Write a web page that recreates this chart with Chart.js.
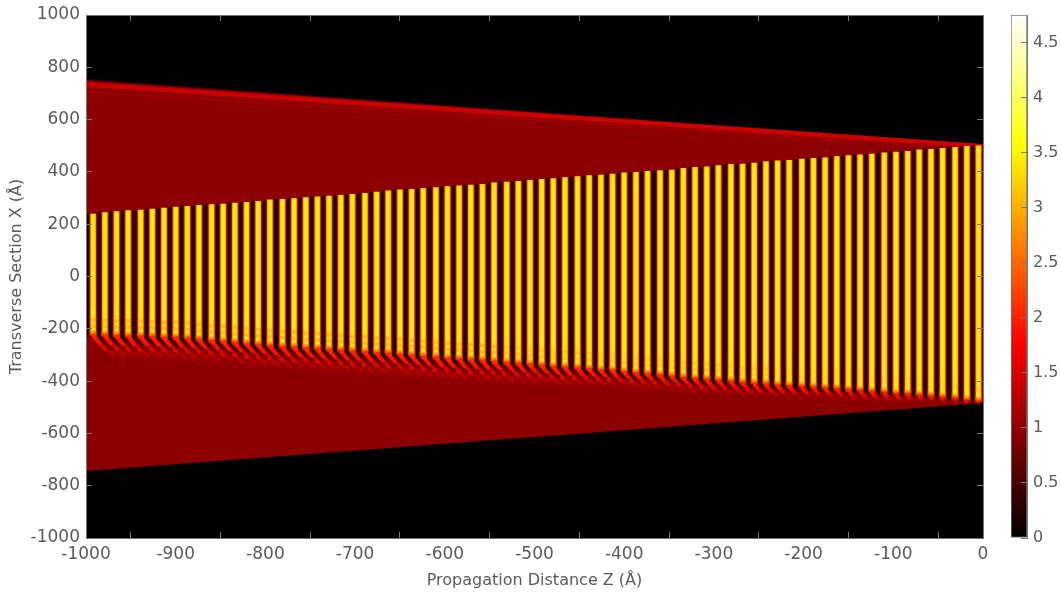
<!DOCTYPE html>
<html>
<head>
<meta charset="utf-8">
<title>Transverse intensity</title>
<script src="https://cdn.jsdelivr.net/npm/chart.js@4"></script>
<style>
    html, body { margin: 0; padding: 0; background: #fff; }
    canvas { position: absolute; top: 0; filter: blur(0.6px); }
    #fieldChart { left: 0; }
    #barChart { left: 990px; }
</style>
</head>
<body>
<canvas id="fieldChart" width="990" height="592"></canvas>
<canvas id="barChart" width="71" height="592"></canvas>
<script>
const xTicks = [-1000, -900, -800, -700, -600, -500, -400, -300, -200, -100, 0];
const yTicks = [-1000, -800, -600, -400, -200, 0, 200, 400, 600, 800, 1000];
const cbTicks = [0, 0.5, 1, 1.5, 2, 2.5, 3, 3.5, 4, 4.5];

// outer edge of the beam
const envZ = [-1000, 0];
const envTop = [750, 500];
const envBottom = [-744, -484];

// bright band along the upper edge, and the faint fringes under it
const glowTop = [743, 500];
const bandTop = [733, 499];
const fringeA = [706, 492];
const fringeB = [688, 486];
const fringeC = [664, 480];

// one entry per bright fringe
const stripeZ = [-992, -979, -966, -953, -939, -926, -913, -900, -887, -874, -860, -847, -834, -821, -808, -795,
    -781, -768, -755, -742, -729, -716, -703, -689, -676, -663, -650, -637, -624, -610, -597, -584, -571, -558,
    -545, -531, -518, -505, -492, -479, -466, -452, -439, -426, -413, -400, -387, -374, -360, -347, -334, -321,
    -308, -295, -281, -268, -255, -242, -229, -216, -202, -189, -176, -163, -150, -137, -124, -110, -97, -84,
    -71, -58, -45, -31, -18, -5];
const stripeTop = [239, 244, 248, 252, 254, 258, 262, 265, 268, 272, 275, 277, 281, 284, 287, 293, 295, 298, 302,
    305, 308, 310, 314, 318, 323, 328, 331, 333, 337, 340, 344, 347, 350, 352, 358, 361, 364, 368, 372, 374, 378,
    382, 386, 388, 392, 396, 398, 402, 405, 407, 414, 417, 419, 424, 429, 430, 434, 439, 442, 444, 449, 452, 454,
    459, 462, 465, 468, 473, 476, 479, 484, 486, 490, 494, 498, 500];
const stripeBottom = [-230, -231, -233, -234, -235, -236, -239, -240, -243, -247, -252, -255, -259, -263, -267,
    -271, -275, -277, -281, -283, -286, -289, -292, -295, -299, -300, -304, -308, -312, -315, -319, -322, -324,
    -327, -331, -335, -338, -342, -346, -350, -352, -355, -359, -363, -365, -370, -374, -378, -382, -387, -392,
    -396, -398, -402, -406, -411, -414, -416, -420, -423, -425, -428, -431, -434, -438, -440, -444, -448, -452,
    -454, -458, -462, -466, -470, -477, -482];
// how far the curved tail under each fringe reaches
const hookScale = [1, 1, 1, 1, 1, 1, 1, 1, 1, 1, 1, 1, 1, 1, 1, 1, 1, 1, 1, 1, 1, 1, 1, 1, 1, 1, 1, 1, 1, 1,
    0.98, 0.96, 0.95, 0.93, 0.92, 0.9, 0.88, 0.86, 0.85, 0.83, 0.8, 0.78, 0.76, 0.74, 0.72, 0.7, 0.68, 0.66, 0.65,
    0.63, 0.62, 0.6, 0.58, 0.56, 0.55, 0.53, 0.52, 0.5, 0.48, 0.46, 0.45, 0.43, 0.42, 0.4, 0.38, 0.36, 0.35, 0.33,
    0.3, 0.26, 0.22, 0.18, 0.15, 0.12, 0.08, 0.05];

const redHookDz = [0, 3, 8, 15, 24, 34];
const redHookDx = [8, -8, -30, -52, -72, -88];
const redHookColors = ['#ff2800', '#f41400', '#d80800', '#b00000', '#960000'];
const darkHookDz = [6.5, 8.5, 12, 17, 23];
const darkHookDx = [6, -6, -20, -34, -46];
const darkHookColors = ['#1c0000', '#320000', '#5c0000', '#800000'];
const beadOffsets = [16, 40, 64];

const cbValues = [0, 1.78, 3.56, 4.75];
const cbColors = ['#000000', '#ff0000', '#ffff00', '#ffffff'];

const stripeOffsets = [0, 0.12, 0.22, 0.28, 0.35, 0.5, 0.65, 0.72, 0.78, 0.88, 1];
const stripeColors = ['#0c0000', '#300000', '#c00800', '#ff8a00', '#ffe010', '#ffee20',
    '#ffe010', '#ff8a00', '#c00800', '#300000', '#0c0000'];

const textColor = '#5a5a5a';
const frameColor = '#777777';
const fontFamily = '"DejaVu Sans"';

function hookPoints(dz, dx) {
    const pts = [];
    stripeZ.forEach((z, i) => {
        const s = hookScale[i];
        dz.forEach((d, j) => pts.push({x: z + dz[0] + (d - dz[0]) * s, y: stripeBottom[i] + dx[j] * s}));
        pts.push({x: z, y: null});
    });
    return pts;
}

function hookSet(dz, dx, colors, width, order) {
    return {
        type: 'line',
        data: hookPoints(dz, dx),
        borderColor: colors[0],
        borderWidth: width,
        tension: 0.4,
        pointRadius: 0,
        fill: false,
        spanGaps: false,
        segment: {borderColor: ctx => colors[ctx.p0DataIndex % (dz.length + 1)] || colors[0]},
        order: order
    };
}

// scale pixel, or null while the scale is not laid out yet
function pixelOf(scale, value) {
    if (!scale || value === undefined) return null;
    const px = scale.getPixelForValue(value);
    return Number.isFinite(px) ? px : null;
}

function stripeFill(ctx) {
    const px = pixelOf(ctx.chart.scales.x, stripeZ[ctx.dataIndex]);
    if (px === null) return '#ffe818';
    const g = ctx.chart.ctx.createLinearGradient(px - 5.9, 0, px + 5.9, 0);
    stripeOffsets.forEach((o, i) => g.addColorStop(o, stripeColors[i]));
    return g;
}

function capFill(ctx) {
    const end = stripeBottom[ctx.dataIndex];
    const y0 = pixelOf(ctx.chart.scales.y, end);
    const y1 = pixelOf(ctx.chart.scales.y, end + 26);
    if (y0 === null || y1 === null) return 'rgba(139,0,0,0.5)';
    const g = ctx.chart.ctx.createLinearGradient(0, y0, 0, y1);
    g.addColorStop(0, 'rgba(170,0,0,1)');
    g.addColorStop(0.5, 'rgba(240,60,0,0.6)');
    g.addColorStop(1, 'rgba(255,150,0,0)');
    return g;
}

function lineSet(ys, color, width, order) {
    return {
        type: 'line',
        data: envZ.map((z, i) => ({x: z, y: ys[i]})),
        borderColor: color,
        borderWidth: width,
        pointRadius: 0,
        fill: false,
        order: order
    };
}

function beadSet(offset, order) {
    return {
        type: 'bar',
        data: stripeZ.map((z, i) => ({x: z, y: [stripeBottom[i] + offset - 6, stripeBottom[i] + offset + 6]})),
        backgroundColor: ctx => 'rgba(235,110,0,' + (ctx.dataIndex < 35 ? 0.32 : ctx.dataIndex < 58 ? 0.2 : 0.08) + ')',
        barThickness: 6,
        borderSkipped: false,
        order: order
    };
}

const blackArea = {
    id: 'blackArea',
    beforeDatasetsDraw(chart) {
        const a = chart.chartArea;
        chart.ctx.fillStyle = '#000';
        chart.ctx.fillRect(a.left, a.top, a.width, a.height);
    }
};

function axisBase(ticks, pos, size) {
    return {
        type: 'linear',
        position: pos,
        min: ticks[0],
        max: ticks[ticks.length - 1],
        offset: false,
        afterBuildTicks: s => { s.ticks = ticks.map(v => ({value: v})); },
        afterFit: s => {
            if (pos === 'left' || pos === 'right') s.width = size; else s.height = size;
            s.paddingLeft = s.paddingRight = s.paddingTop = s.paddingBottom = 0;
        },
        grid: {drawOnChartArea: false, tickLength: -6, tickColor: frameColor, z: 1},
        border: {color: frameColor, width: 1, z: 1},
        ticks: {
            autoSkip: false,
            maxRotation: 0,
            color: textColor,
            padding: 12,
            font: {family: fontFamily, size: 17},
            callback: v => String(v)
        }
    };
}

const xAxis = axisBase(xTicks, 'bottom', 54);
xAxis.title = {display: true, text: 'Propagation Distance Z (Å)', color: textColor, padding: {top: 0, bottom: 2},
    font: {family: fontFamily, size: 16}};
const yAxis = axisBase(yTicks, 'left', 86);
yAxis.title = {display: true, text: 'Transverse Section X (Å)', color: textColor, padding: {top: 7, bottom: 0},
    font: {family: fontFamily, size: 16}};
const xTopAxis = axisBase(xTicks, 'top', 15);
xTopAxis.ticks.display = false;
const yRightAxis = axisBase(yTicks, 'right', 7);
yRightAxis.ticks.display = false;

new Chart(document.getElementById('fieldChart').getContext('2d'), {
    type: 'bar',
    plugins: [blackArea],
    data: {
        datasets: [
            {
                type: 'line',
                data: envZ.map((z, i) => ({x: z, y: envTop[i]})),
                borderWidth: 0,
                pointRadius: 0,
                backgroundColor: '#8b0000',
                fill: '+1',
                order: 20
            },
            {
                type: 'line',
                data: envZ.map((z, i) => ({x: z, y: envBottom[i]})),
                borderWidth: 0,
                pointRadius: 0,
                fill: false,
                order: 21
            },
            lineSet(envTop, '#3c0000', 3, 19),
            lineSet(glowTop, '#a80000', 3, 18),
            lineSet(fringeA, '#a30000', 1.5, 18),
            lineSet(fringeB, '#9a0000', 1, 18),
            lineSet(fringeC, '#970000', 1, 18),
            lineSet(bandTop, '#cc0000', 4, 17),
            {
                type: 'bar',
                data: stripeZ.map((z, i) => ({x: z, y: [stripeBottom[i], stripeTop[i]]})),
                backgroundColor: stripeFill,
                barThickness: 11.9,
                borderSkipped: false,
                order: 10
            },
            beadSet(beadOffsets[0], 9),
            beadSet(beadOffsets[1], 9),
            beadSet(beadOffsets[2], 9),
            {
                type: 'bar',
                data: stripeZ.map((z, i) => ({x: z, y: [stripeBottom[i], stripeBottom[i] + 26]})),
                backgroundColor: capFill,
                barThickness: 7,
                borderSkipped: false,
                order: 8
            },
            hookSet(redHookDz, redHookDx, redHookColors, 4, 6),
            hookSet(darkHookDz, darkHookDx, darkHookColors, 2.5, 5)
        ]
    },
    options: {
        responsive: false,
        animation: false,
        events: [],
        layout: {padding: 0},
        datasets: {bar: {grouped: false}},
        plugins: {legend: {display: false}, title: {display: false}, tooltip: {enabled: false}},
        scales: {x: xAxis, y: yAxis, x2: xTopAxis, y2: yRightAxis}
    }
});

function barFill(ctx) {
    const y0 = pixelOf(ctx.chart.scales.y, 0);
    const y1 = pixelOf(ctx.chart.scales.y, 4.75);
    if (y0 === null || y1 === null) return '#000';
    const g = ctx.chart.ctx.createLinearGradient(0, y0, 0, y1);
    cbValues.forEach((v, i) => g.addColorStop(v / 4.75, cbColors[i]));
    return g;
}

const cbAxis = axisBase(cbTicks, 'right', 34);
cbAxis.max = 4.75;
cbAxis.ticks.font = {family: fontFamily, size: 16};

new Chart(document.getElementById('barChart').getContext('2d'), {
    type: 'bar',
    data: {
        labels: ['I'],
        datasets: [{
            data: [[0, 4.75]],
            backgroundColor: barFill,
            borderColor: frameColor,
            borderWidth: 1,
            borderSkipped: false,
            barPercentage: 1,
            categoryPercentage: 1
        }]
    },
    options: {
        responsive: false,
        animation: false,
        events: [],
        layout: {padding: {left: 21, top: 15, bottom: 54, right: 0}},
        plugins: {legend: {display: false}, tooltip: {enabled: false}},
        scales: {x: {display: false}, y: cbAxis}
    }
});
</script>
</body>
</html>
